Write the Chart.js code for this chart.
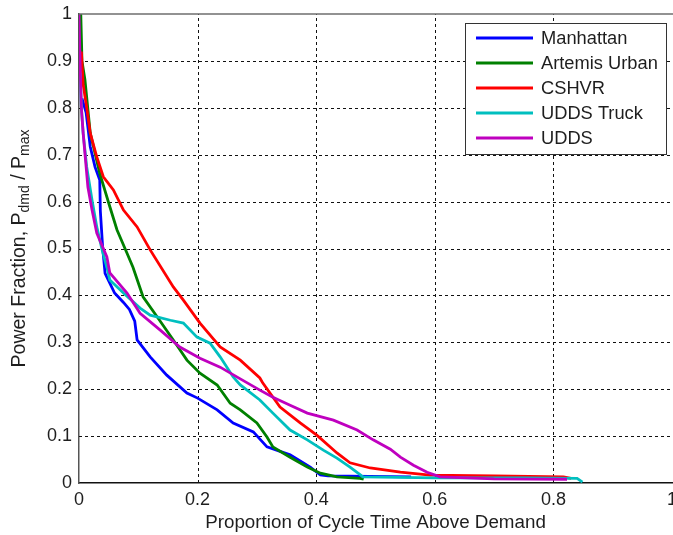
<!DOCTYPE html>
<html>
<head>
<meta charset="utf-8">
<script src="https://cdn.jsdelivr.net/npm/chart.js@4/dist/chart.umd.min.js"></script>
<style>
  html, body { margin: 0; padding: 0; background: #fff; }
  #wrap { width: 673px; height: 535px; position: relative; }
</style>
</head>
<body>
<div id="wrap"><canvas id="powerChart"></canvas></div>
<script>
// cumulative duty curves: fraction of cycle time spent above a given power level
const manhattanX = [0.005, 0.012, 0.019, 0.027, 0.035, 0.036, 0.04, 0.044, 0.06, 0.075, 0.085, 0.094, 0.098, 0.12, 0.148, 0.182, 0.2, 0.233, 0.26, 0.294, 0.317, 0.356, 0.39, 0.407, 0.42, 0.56];
const manhattanY = [0.82, 0.79, 0.717, 0.674, 0.646, 0.58, 0.5, 0.447, 0.405, 0.385, 0.37, 0.345, 0.305, 0.269, 0.23, 0.192, 0.181, 0.156, 0.128, 0.109, 0.077, 0.06, 0.034, 0.017, 0.015, 0.013];

const artemisX = [0.003, 0.005, 0.01, 0.019, 0.035, 0.052, 0.064, 0.081, 0.091, 0.108, 0.132, 0.159, 0.182, 0.204, 0.233, 0.255, 0.272, 0.3, 0.317, 0.327, 0.356, 0.385, 0.407, 0.435, 0.474, 0.48];
const artemisY = [1.0, 0.9, 0.86, 0.746, 0.66, 0.589, 0.54, 0.49, 0.46, 0.397, 0.354, 0.305, 0.262, 0.234, 0.209, 0.17, 0.156, 0.128, 0.098, 0.077, 0.055, 0.034, 0.021, 0.013, 0.01, 0.008];

const cshvrX = [0.004, 0.007, 0.013, 0.019, 0.03, 0.041, 0.058, 0.075, 0.098, 0.12, 0.159, 0.176, 0.204, 0.238, 0.272, 0.305, 0.31, 0.339, 0.373, 0.401, 0.435, 0.457, 0.491, 0.542, 0.592, 0.7, 0.817, 0.83];
const cshvrY = [0.92, 0.85, 0.8, 0.746, 0.695, 0.653, 0.625, 0.582, 0.546, 0.497, 0.418, 0.39, 0.341, 0.29, 0.262, 0.224, 0.213, 0.162, 0.128, 0.102, 0.064, 0.043, 0.032, 0.023, 0.017, 0.015, 0.013, 0.01];

const truckX = [0.002, 0.004, 0.007, 0.013, 0.022, 0.03, 0.039, 0.047, 0.052, 0.075, 0.103, 0.12, 0.154, 0.176, 0.199, 0.221, 0.238, 0.26, 0.272, 0.305, 0.327, 0.356, 0.385, 0.412, 0.435, 0.457, 0.479, 0.6, 0.75, 0.84, 0.849];
const truckY = [0.874, 0.8, 0.746, 0.674, 0.603, 0.546, 0.497, 0.46, 0.433, 0.405, 0.373, 0.358, 0.347, 0.341, 0.311, 0.298, 0.269, 0.226, 0.209, 0.177, 0.149, 0.113, 0.092, 0.07, 0.053, 0.034, 0.013, 0.011, 0.011, 0.01, 0.002];

const uddsX = [0, 0.002, 0.004, 0.007, 0.015, 0.022, 0.03, 0.047, 0.052, 0.081, 0.103, 0.137, 0.17, 0.204, 0.238, 0.272, 0.305, 0.327, 0.356, 0.385, 0.429, 0.469, 0.496, 0.525, 0.542, 0.564, 0.587, 0.609, 0.7, 0.823];
const uddsY = [1.0, 0.887, 0.8, 0.746, 0.631, 0.582, 0.533, 0.482, 0.448, 0.405, 0.362, 0.326, 0.29, 0.266, 0.247, 0.222, 0.198, 0.183, 0.166, 0.149, 0.134, 0.113, 0.092, 0.072, 0.055, 0.038, 0.023, 0.013, 0.009, 0.008];

const seriesNames = ["Manhattan", "Artemis Urban", "CSHVR", "UDDS Truck", "UDDS"];
const seriesColors = ["#0000ff", "#008000", "#ff0000", "#00bfbf", "#bf00bf"];
const seriesX = [manhattanX, artemisX, cshvrX, truckX, uddsX];
const seriesY = [manhattanY, artemisY, cshvrY, truckY, uddsY];

const FONT = "'Liberation Sans', Arial, sans-serif";
const TEXT = "#1e1e1e";

// dotted grid, drawn under the curves from the scale ticks
const dashedGridPlugin = {
  id: "dashedGrid",
  beforeDatasetsDraw(chart) {
    const { ctx, chartArea: a, scales: { x, y } } = chart;
    ctx.save();
    ctx.strokeStyle = "#111";
    ctx.lineWidth = 1;
    ctx.setLineDash([3, 3]);
    ctx.beginPath();
    x.ticks.forEach((t) => {
      if (t.value <= 0 || t.value >= 1) return;
      const px = Math.round(x.getPixelForValue(t.value)) + 0.5;
      ctx.moveTo(px, a.bottom);
      ctx.lineTo(px, a.top);
    });
    y.ticks.forEach((t) => {
      if (t.value <= 0 || t.value >= 0.999) return;
      const py = Math.round(y.getPixelForValue(t.value)) + 0.5;
      ctx.moveTo(a.left, py);
      ctx.lineTo(a.right, py);
    });
    ctx.stroke();
    ctx.restore();
  }
};

// y label with subscripts, drawn sideways
const yTitlePlugin = {
  id: "yTitle",
  afterDraw(chart) {
    const { ctx, chartArea } = chart;
    const parts = [
      ["Power Fraction, P", 19.5, 0],
      ["dmd", 14, 5],
      [" / P", 19.5, 0],
      ["max", 14, 5],
    ];
    ctx.save();
    let total = 0;
    parts.forEach(([t, s]) => { ctx.font = `${s}px ${FONT}`; total += ctx.measureText(t).width; });
    ctx.translate(20, (chartArea.top + chartArea.bottom) / 2);
    ctx.rotate(-Math.PI / 2);
    ctx.fillStyle = TEXT;
    ctx.textBaseline = "middle";
    let x = -total / 2;
    parts.forEach(([t, s, dy]) => {
      ctx.font = `${s}px ${FONT}`;
      ctx.fillText(t, x, dy);
      x += ctx.measureText(t).width;
    });
    ctx.restore();
  }
};

// boxed legend in the upper right, plus the top frame line
const boxLegendPlugin = {
  id: "boxLegend",
  afterDraw(chart) {
    const { ctx, chartArea } = chart;
    ctx.save();
    ctx.strokeStyle = "#6e6e6e";
    ctx.lineWidth = 1.5;
    ctx.beginPath();
    ctx.moveTo(chartArea.left, chartArea.top);
    ctx.lineTo(chart.width, chartArea.top);
    ctx.stroke();

    const bx = 465.5, by = 23.5, bw = 201, bh = 131;
    ctx.fillStyle = "#fff";
    ctx.fillRect(bx, by, bw, bh);
    ctx.strokeStyle = "#333";
    ctx.lineWidth = 1;
    ctx.strokeRect(bx, by, bw, bh);
    ctx.font = `18.3px ${FONT}`;
    ctx.textBaseline = "middle";
    seriesNames.forEach((name, i) => {
      const y = 38 + i * 25;
      ctx.strokeStyle = seriesColors[i];
      ctx.lineWidth = 3;
      ctx.beginPath();
      ctx.moveTo(476, y);
      ctx.lineTo(533, y);
      ctx.stroke();
      ctx.fillStyle = TEXT;
      ctx.fillText(name, 541, y + 1);
    });
    ctx.restore();
  }
};

new Chart(document.getElementById("powerChart"), {
  type: "line",
  data: {
    datasets: seriesNames.map((name, i) => ({
      label: name,
      data: seriesX[i].map((x, j) => ({ x, y: seriesY[i][j] })),
      borderColor: seriesColors[i],
      backgroundColor: seriesColors[i],
      borderWidth: 2.8,
      pointRadius: 0,
      tension: 0,
      fill: false,
      order: seriesNames.length - i,
    })),
  },
  options: {
    responsive: true,
    maintainAspectRatio: false,
    animation: false,
    layout: { padding: { top: 14, right: 1, left: 0, bottom: 0 } },
    plugins: { legend: { display: false }, tooltip: { enabled: false } },
    scales: {
      x: {
        type: "linear",
        min: 0, max: 1,
        afterFit: (s) => { s.height = 52; s.paddingLeft = 0; s.paddingRight = 0; },
        ticks: {
          stepSize: 0.2,
          padding: 6,
          color: TEXT,
          font: { family: FONT, size: 18 },
          maxRotation: 0,
          callback: (v) => +v.toFixed(1),
        },
        grid: { display: false, drawTicks: false },
        border: { display: true, color: "#111", width: 1.5 },
        title: {
          display: true,
          text: "Proportion of Cycle Time Above Demand",
          color: TEXT,
          font: { family: FONT, size: 18.8 },
          padding: { top: 0, bottom: 1 },
        },
      },
      y: {
        min: 0, max: 1,
        afterFit: (s) => { s.width = 79; s.paddingTop = 0; s.paddingBottom = 0; },
        ticks: {
          stepSize: 0.1,
          padding: 7,
          color: TEXT,
          font: { family: FONT, size: 18 },
          callback: (v) => +v.toFixed(1),
        },
        grid: { display: false, drawTicks: false },
        border: { display: true, color: "#555", width: 1.5 },
      },
    },
  },
  plugins: [dashedGridPlugin, yTitlePlugin, boxLegendPlugin],
});
</script>
</body>
</html>
